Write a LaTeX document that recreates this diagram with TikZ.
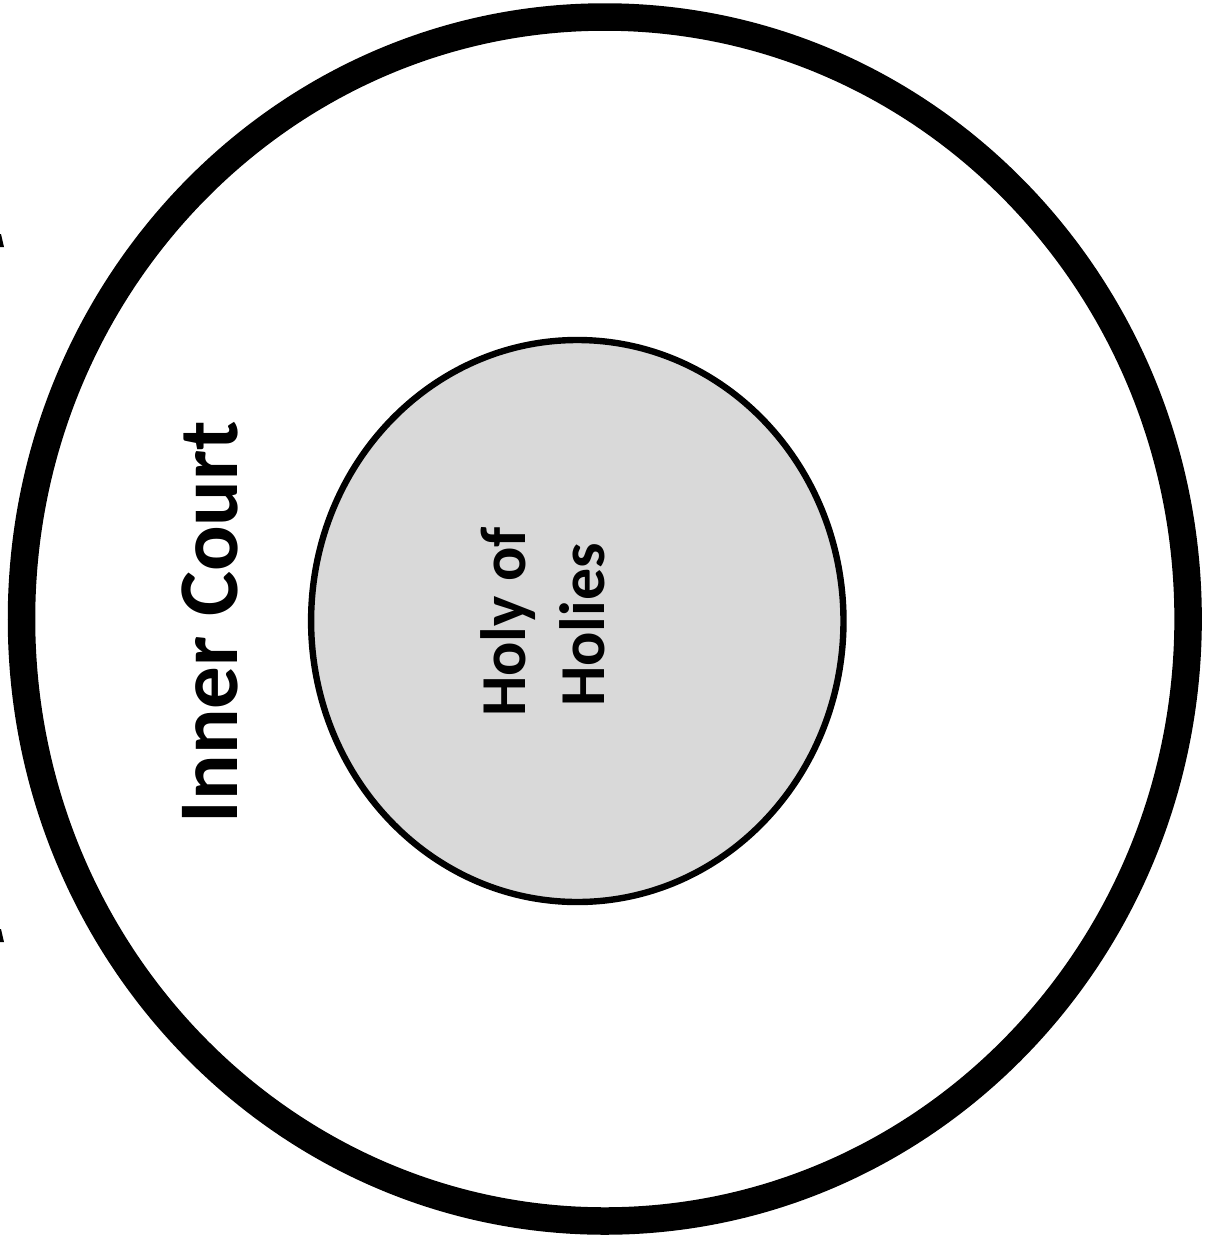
\documentclass[tikz,border=0pt]{standalone}
\usepackage{fontspec}
\setmainfont{Carlito}
\definecolor{holygray}{HTML}{D9D9D9}
\begin{document}
\begin{tikzpicture}[x=0.5pt,y=-0.5pt,
  outerwall/.style={draw=black,line width=13.75pt},
  innerwall/.style={draw=black,fill=holygray,line width=3.2pt},
  biglabel/.style={font=\fontsize{42.5}{51}\selectfont\bfseries,inner sep=0pt,rotate=90,anchor=base},
  smalllabel/.style={font=\fontsize{32}{38}\selectfont\bfseries,inner sep=0pt,rotate=90,anchor=base},
  markfill/.style={fill=black}]
\useasboundingbox (0,0) rectangle (1209,1239);
\fill[white] (0,0) rectangle (1209,1239);
\coordinate (oc) at (604.8,619);
\coordinate (ic) at (577.3,621);
\draw[outerwall] (oc) ellipse [x radius=291.65pt, y radius=301pt];
\draw[innerwall] (ic) ellipse [x radius=133.1pt, y radius=140.5pt];
\node[biglabel] (inner) at (237,622) {Inner Court};
\node[smalllabel] (holy1) at (525,622) {Holy of};
\node[smalllabel] (holy2) at (604,625) {Holies};
\fill[markfill] (0,234) -- (1,234) -- (4,247) -- (0,247) -- cycle;
\fill[markfill] (0,929) -- (1,929) -- (4,942) -- (0,942) -- cycle;
\end{tikzpicture}
\end{document}
